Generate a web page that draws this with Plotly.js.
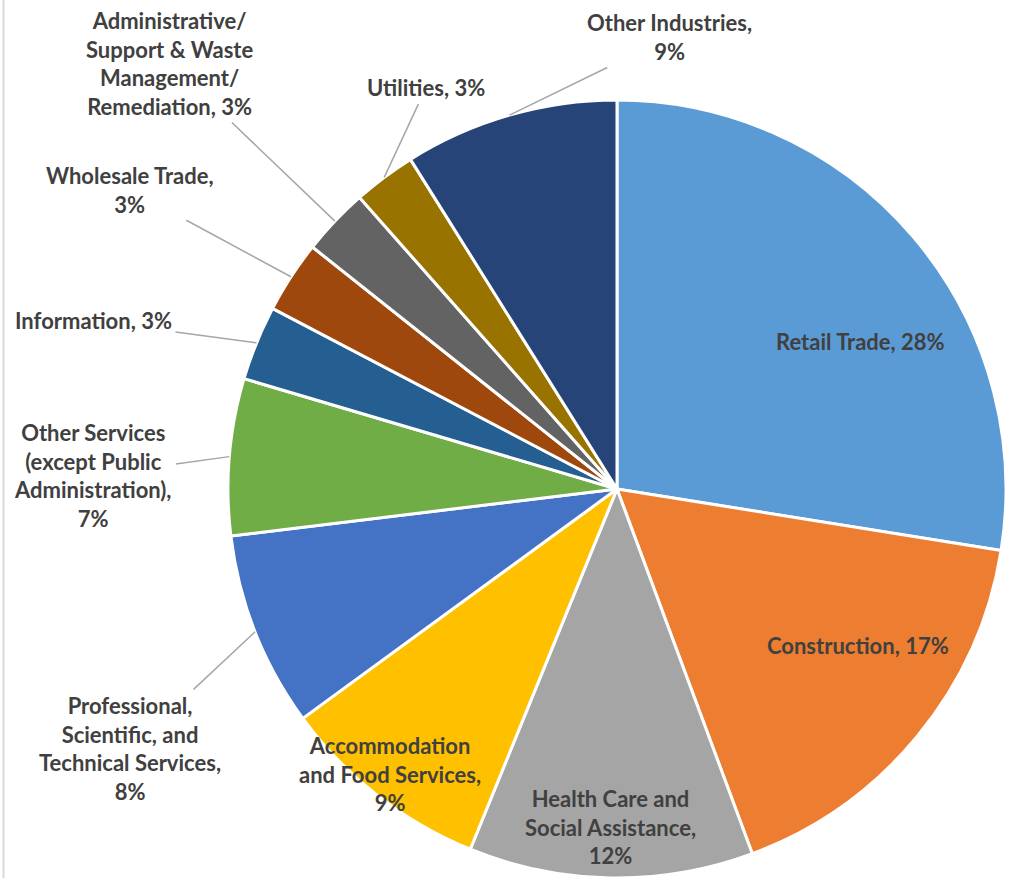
<!DOCTYPE html>
<html>
<head>
<meta charset="utf-8">
<script src="https://cdn.plot.ly/plotly-3.0.1.min.js"></script>
<style>html,body{margin:0;padding:0;background:#fff;}#chart{width:1010px;height:878px;}</style>
</head>
<body>
<div id="chart"></div>
<script>
// ---- data ----
var categories = [
  "Retail Trade", "Construction", "Health Care and Social Assistance",
  "Accommodation and Food Services", "Professional, Scientific, and Technical Services",
  "Other Services (except Public Administration)", "Information", "Wholesale Trade",
  "Administrative/Support & Waste Management/Remediation", "Utilities", "Other Industries"
];
var shares = [27.5, 16.8, 11.8, 8.8, 8.1, 6.5, 3.1, 3.0, 2.8, 2.6, 8.9];
var labelNames = [
  "Retail Trade", "Construction", "Health Care and<br>Social Assistance",
  "Accommodation<br>and Food Services", "Professional,<br>Scientific, and<br>Technical Services",
  "Other Services<br>(except Public<br>Administration)", "Information", "Wholesale Trade",
  "Administrative/<br>Support &amp; Waste<br>Management/<br>Remediation", "Utilities", "Other Industries"
];

// ---- style ----
var colors = ["#5B9BD5", "#ED7D31", "#A5A5A5", "#FFC000", "#4472C4", "#70AD47",
              "#255E91", "#9E480E", "#636363", "#997300", "#264478"];
var pctOnNewLine = [false, false, true, true, true, true, false, true, false, false, true];
var inside = [true, true, true, true, false, false, false, false, false, false, false];
// label offsets (px) from the point on the rim at each slice's middle angle
var offX = [-53, -60, 0, 13, -125, -136, -163, -161, -165, 42, 160];
var offY = [105, -90, -51, -21, 117, 19, -22, -87, -158, -90, -78];

var W = 1010, H = 878;
var CX = 617, CY = 489, R = 389;
var FONT = {family: "Lato, 'Open Sans', sans-serif", size: 22, color: "#404040"};

var total = shares.reduce(function (a, b) { return a + b; }, 0);
var annotations = [];
var cum = 0;
for (var i = 0; i < shares.length; i++) {
  var mid = (cum + shares[i] / 2) / total * 2 * Math.PI;
  cum += shares[i];
  var px = CX + R * Math.sin(mid);
  var py = CY - R * Math.cos(mid);
  var pct = Math.round(shares[i] / total * 100);
  var txt = "<b>" + labelNames[i] + "," + (pctOnNewLine[i] ? "<br>" : " ") + pct + "%</b>";
  var a = {
    xref: "paper", yref: "paper",
    x: px / W, y: 1 - py / H,
    text: txt, font: FONT, align: "center",
    xanchor: "center", yanchor: "middle"
  };
  if (inside[i]) {
    a.showarrow = false;
    a.xshift = offX[i];
    a.yshift = -offY[i];
  } else {
    a.showarrow = true;
    a.arrowhead = 0;
    a.arrowwidth = 1.5;
    a.arrowcolor = "#A6A6A6";
    a.standoff = 0;
    a.startstandoff = 2;
    a.ax = offX[i];
    a.ay = offY[i];
  }
  annotations.push(a);
}

var trace = {
  type: "pie",
  labels: categories,
  values: shares,
  sort: false,
  direction: "clockwise",
  rotation: 0,
  textinfo: "none",
  hoverinfo: "label+percent",
  marker: {colors: colors, line: {color: "#FFFFFF", width: 3}},
  domain: {x: [(CX - R) / W, (CX + R) / W], y: [1 - (CY + R) / H, 1 - (CY - R) / H]},
  showlegend: false
};

var layout = {
  width: W, height: H,
  margin: {l: 0, r: 0, t: 0, b: 0},
  paper_bgcolor: "#FFFFFF",
  showlegend: false,
  annotations: annotations,
  shapes: [{type: "line", xref: "paper", yref: "paper", x0: 3.5 / W, x1: 3.5 / W, y0: 0, y1: 1,
            line: {color: "#D9D9D9", width: 2}}]
};

Plotly.newPlot("chart", [trace], layout, {displayModeBar: false, staticPlot: true});
</script>
</body>
</html>
